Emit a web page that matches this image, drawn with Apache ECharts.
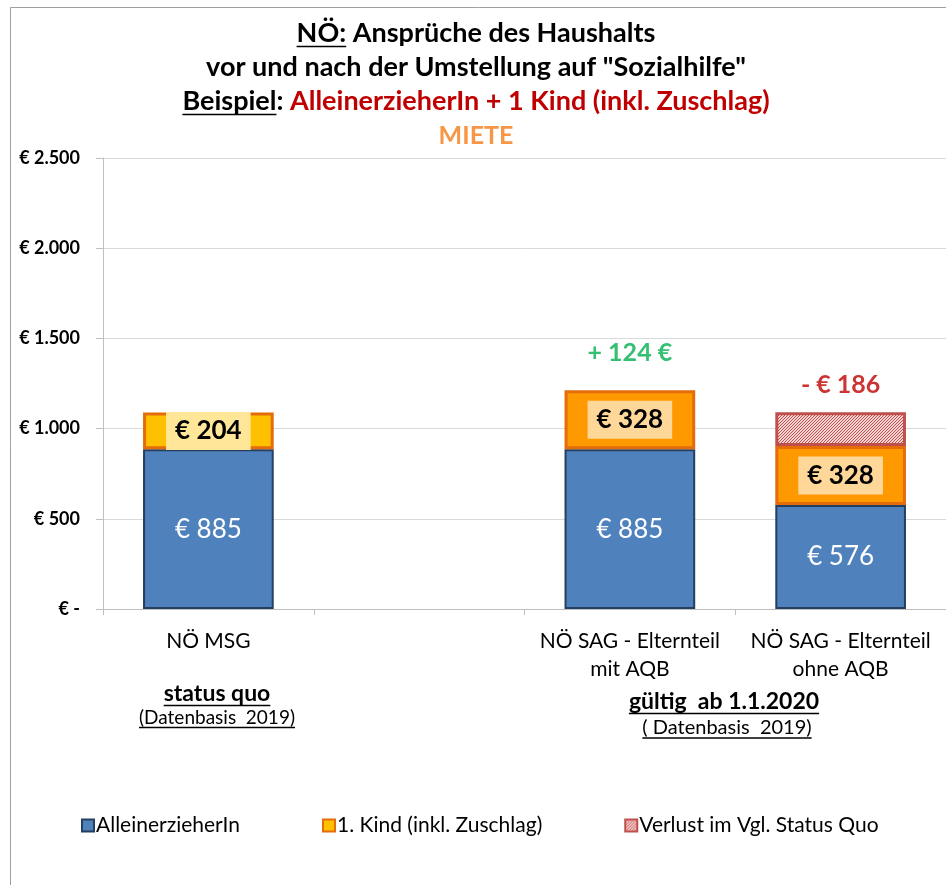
<!DOCTYPE html>
<html>
<head>
<meta charset="utf-8">
<script src="https://cdn.jsdelivr.net/npm/echarts@6/dist/echarts.min.js"></script>
<style>
  html, body { margin: 0; padding: 0; background: #fff; }
  #chart { width: 946px; height: 885px; }
</style>
</head>
<body>
<div id="chart"></div>
<script>
// Werte aus der Grafik
var categories = ['NÖ MSG', '', 'NÖ SAG - Elternteil\nmit AQB', 'NÖ SAG - Elternteil\nohne AQB'];
var parentValues = [885, null, 885, 576];   // AlleinerzieherIn
var childValues = [204, null, 328, 328];    // 1. Kind (inkl. Zuschlag)
var lossValues = [null, null, null, 186];   // Verlust im Vgl. Status Quo
var changeValues = [null, null, 124, -186]; // Differenz zum Status Quo
var yTicks = [0, 500, 1000, 1500, 2000, 2500];

var FONT = 'Lato, "Open Sans", sans-serif';
var childFill = ['#FFC000', null, '#FF9900', '#FF9900'];
var childLabelBg = ['#FFE699', null, '#FFD899', '#FFD899'];

// Breite eines Textes messen (für Unterstreichungen)
var measureCtx = document.createElement('canvas').getContext('2d');
function textWidth(str, font) {
  measureCtx.font = font;
  return measureCtx.measureText(str).width;
}
function txt(str, x, y, size, color, bold, align) {
  return {
    type: 'text', z: 100,
    style: {
      text: str, x: x, y: y,
      font: (bold ? 'bold ' : '') + size + 'px ' + FONT,
      fill: color, align: align || 'center', verticalAlign: 'middle'
    }
  };
}
function uline(x1, x2, y, w) {
  return {
    type: 'line', z: 100,
    shape: { x1: x1, y1: y, x2: x2, y2: y },
    style: { stroke: '#000', lineWidth: w || 1.5 }
  };
}
function centeredUnderlined(str, cx, y, size, bold) {
  var w = textWidth(str, (bold ? 'bold ' : '') + size + 'px ' + FONT);
  return [txt(str, cx, y, size, '#000', bold), uline(cx - w / 2, cx + w / 2, y + size * 0.5)];
}

// Schraffur für "Verlust"
var hatch = document.createElement('canvas');
hatch.width = 3; hatch.height = 3;
var hc = hatch.getContext('2d');
hc.fillStyle = '#F6D4D3';
hc.fillRect(0, 0, 3, 3);
hc.strokeStyle = '#C0504D';
hc.lineWidth = 1;
hc.beginPath();
hc.moveTo(0, 3); hc.lineTo(3, 0);
hc.moveTo(-1, 1); hc.lineTo(1, -1);
hc.moveTo(2, 4); hc.lineTo(4, 2);
hc.stroke();

// Titel
var titleX = 476;
var tSize = 27;
var tFont = 'bold ' + tSize + 'px ' + FONT;
var graphics = [];
graphics.push({
  type: 'rect', z: -10,
  shape: { x: 10.5, y: 7.5, width: 1000, height: 1000 },
  style: { fill: 'none', stroke: '#A0A0A0', lineWidth: 1 }
});
var l1a = 'NÖ:', l1b = ' Ansprüche des Haushalts';
var l1w = textWidth(l1a + l1b, tFont);
var l1x = titleX - l1w / 2;
graphics.push(txt(l1a + l1b, l1x, 33, tSize, '#000', true, 'left'));
graphics.push(uline(l1x, l1x + textWidth(l1a, tFont), 33 + tSize * 0.5));
graphics.push(txt('vor und nach der Umstellung auf "Sozialhilfe"', titleX, 67, tSize, '#000', true));
var l3a = 'Beispiel', l3b = ': ', l3c = 'AlleinerzieherIn + 1 Kind (inkl. Zuschlag)';
var l3w = textWidth(l3a + l3b + l3c, tFont);
var l3x = titleX - l3w / 2;
graphics.push(txt(l3a + l3b, l3x, 101, tSize, '#000', true, 'left'));
graphics.push(uline(l3x, l3x + textWidth(l3a, tFont), 101 + tSize * 0.5));
graphics.push(txt(l3c, l3x + textWidth(l3a + l3b, tFont), 101, tSize, '#C00000', true, 'left'));
graphics.push(txt('MIETE', titleX, 136, tSize - 2, '#F79646', true));

// Zusatzbeschriftungen unter der Achse
graphics = graphics.concat(centeredUnderlined('status quo', 217, 694, 23, true));
graphics = graphics.concat(centeredUnderlined('(Datenbasis  2019)', 217, 718, 19, false));
graphics = graphics.concat(centeredUnderlined('gültig  ab 1.1.2020', 724, 702, 23, true));
graphics = graphics.concat(centeredUnderlined('( Datenbasis  2019)', 727, 728, 20, false));

function fmtThousands(v) {
  return String(v).replace(/\B(?=(\d{3})+(?!\d))/g, '.');
}

var stackTops = categories.map(function (c, i) {
  return (parentValues[i] || 0) + (childValues[i] || 0) + (lossValues[i] || 0);
});

var option = {
  backgroundColor: '#fff',
  animation: false,
  textStyle: { fontFamily: FONT },
  grid: { left: 103, right: -11, top: 158, bottom: 276 },
  legend: {
    left: 76, top: 810,
    icon: 'rect', itemWidth: 12, itemHeight: 12, itemGap: 82,
    itemStyle: { borderWidth: 2 },
    textStyle: { fontSize: 21, color: '#000', fontFamily: FONT, padding: [0, 0, 0, -3] },
    data: ['AlleinerzieherIn', '1. Kind (inkl. Zuschlag)', 'Verlust im Vgl. Status Quo']
  },
  xAxis: {
    type: 'category',
    data: categories,
    axisLine: { lineStyle: { color: '#BFBFBF' } },
    axisTick: { show: true, length: 6, lineStyle: { color: '#BFBFBF' } },
    axisLabel: { interval: 0, color: '#000', fontSize: 21, lineHeight: 28, margin: 18, fontFamily: FONT }
  },
  yAxis: {
    type: 'value',
    min: 0, max: 2500, interval: 500,
    axisLine: { show: true, lineStyle: { color: '#BFBFBF' } },
    axisTick: { show: true, length: 7, lineStyle: { color: '#BFBFBF' } },
    splitLine: { lineStyle: { color: '#D9D9D9' } },
    axisLabel: {
      color: '#000', fontWeight: 'bold', fontSize: 18, margin: 23, fontFamily: FONT,
      formatter: function (v) { return v === 0 ? '€ -' : '€ ' + fmtThousands(v); }
    }
  },
  graphic: graphics,
  series: [
    {
      name: 'AlleinerzieherIn',
      type: 'bar', stack: 'total', barWidth: '62%',
      itemStyle: { color: '#4F81BD', borderColor: '#243F60', borderWidth: 2 },
      label: {
        show: true, position: 'inside', color: '#fff', fontSize: 26, fontFamily: FONT,
        formatter: '€ {c}'
      },
      data: parentValues
    },
    {
      name: '1. Kind (inkl. Zuschlag)',
      type: 'bar', stack: 'total',
      itemStyle: { color: '#FFC000', borderColor: '#E46C0A', borderWidth: 3 },
      label: {
        show: true, position: 'inside', color: '#000', fontWeight: 'bold', fontSize: 26,
        fontFamily: FONT, lineHeight: 30, padding: [4, 9], formatter: '€ {c}'
      },
      data: childValues.map(function (v, i) {
        if (v == null) return null;
        return { value: v, itemStyle: { color: childFill[i] }, label: { backgroundColor: childLabelBg[i] } };
      })
    },
    {
      name: 'Verlust im Vgl. Status Quo',
      type: 'bar', stack: 'total',
      itemStyle: { color: { image: hatch, repeat: 'repeat' }, borderColor: '#C0504D', borderWidth: 3 },
      data: lossValues
    },
    {
      name: 'Differenz',
      type: 'scatter', symbolSize: 1,
      itemStyle: { color: 'rgba(0,0,0,0)' },
      label: {
        show: true, position: 'top', fontWeight: 'bold', fontSize: 25, fontFamily: FONT,
        formatter: function (p) {
          var v = changeValues[p.dataIndex];
          return v > 0 ? '+ ' + v + ' €' : '- € ' + (-v);
        }
      },
      data: stackTops.map(function (t, i) {
        var v = changeValues[i];
        if (v == null) return null;
        return {
          value: t,
          label: { color: v > 0 ? '#00B050' : '#C00000', distance: v > 0 ? 24 : 14 }
        };
      })
    }
  ]
};

var myChart = echarts.init(document.getElementById('chart'));
myChart.setOption(option);
window.addEventListener('resize', function () {
  myChart.resize();
});
</script>
</body>
</html>
